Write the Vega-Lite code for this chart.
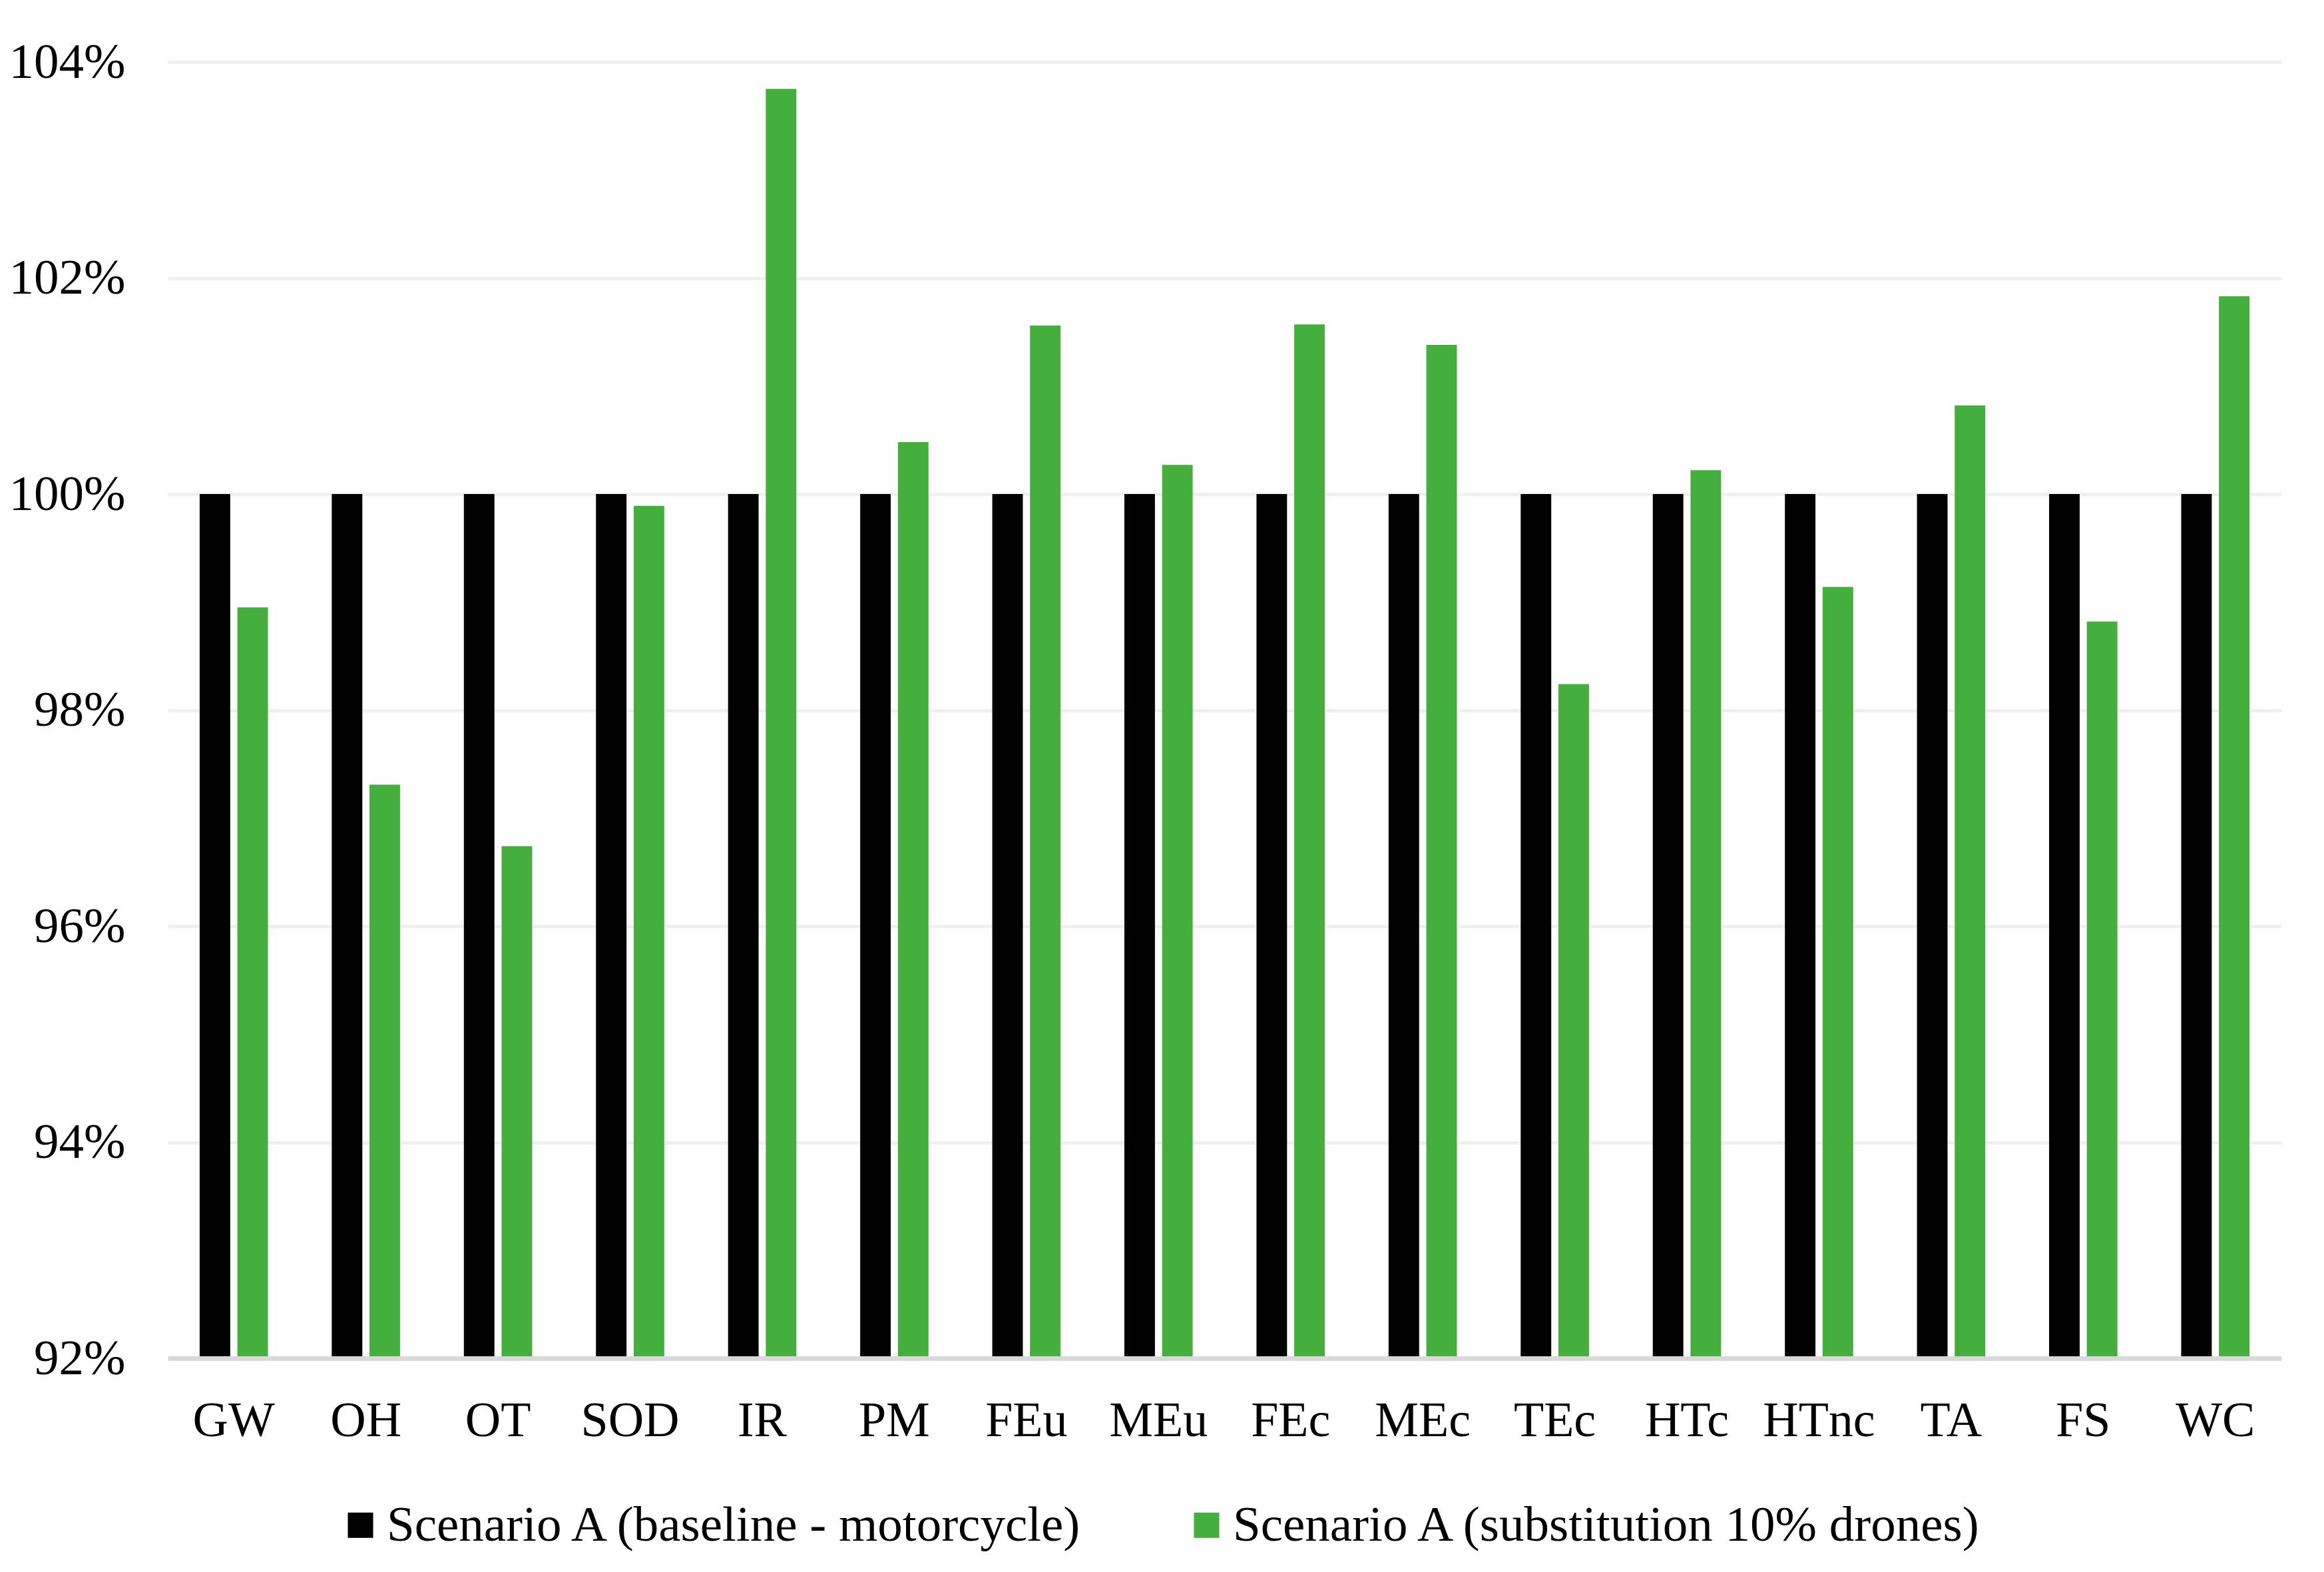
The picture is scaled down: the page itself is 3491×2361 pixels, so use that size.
{
  "$schema": "https://vega.github.io/schema/vega-lite/v6.json",
  "width": 3175,
  "height": 1947,
  "autosize": {"type": "none"},
  "padding": {"left": 252, "top": 93, "right": 64, "bottom": 321},
  "background": "white",
  "config": {"view": {"stroke": null}, "font": "Liberation Serif"},
  "data": {
    "values": [
      {"category": "GW", "series": "Scenario A (baseline - motorcycle)", "value": 1.0},
      {"category": "GW", "series": "Scenario A (substitution 10% drones)", "value": 0.9895},
      {"category": "OH", "series": "Scenario A (baseline - motorcycle)", "value": 1.0},
      {"category": "OH", "series": "Scenario A (substitution 10% drones)", "value": 0.9731},
      {"category": "OT", "series": "Scenario A (baseline - motorcycle)", "value": 1.0},
      {"category": "OT", "series": "Scenario A (substitution 10% drones)", "value": 0.9674},
      {"category": "SOD", "series": "Scenario A (baseline - motorcycle)", "value": 1.0},
      {"category": "SOD", "series": "Scenario A (substitution 10% drones)", "value": 0.9989},
      {"category": "IR", "series": "Scenario A (baseline - motorcycle)", "value": 1.0},
      {"category": "IR", "series": "Scenario A (substitution 10% drones)", "value": 1.0375},
      {"category": "PM", "series": "Scenario A (baseline - motorcycle)", "value": 1.0},
      {"category": "PM", "series": "Scenario A (substitution 10% drones)", "value": 1.0048},
      {"category": "FEu", "series": "Scenario A (baseline - motorcycle)", "value": 1.0},
      {"category": "FEu", "series": "Scenario A (substitution 10% drones)", "value": 1.0156},
      {"category": "MEu", "series": "Scenario A (baseline - motorcycle)", "value": 1.0},
      {"category": "MEu", "series": "Scenario A (substitution 10% drones)", "value": 1.0027},
      {"category": "FEc", "series": "Scenario A (baseline - motorcycle)", "value": 1.0},
      {"category": "FEc", "series": "Scenario A (substitution 10% drones)", "value": 1.0157},
      {"category": "MEc", "series": "Scenario A (baseline - motorcycle)", "value": 1.0},
      {"category": "MEc", "series": "Scenario A (substitution 10% drones)", "value": 1.0138},
      {"category": "TEc", "series": "Scenario A (baseline - motorcycle)", "value": 1.0},
      {"category": "TEc", "series": "Scenario A (substitution 10% drones)", "value": 0.9824},
      {"category": "HTc", "series": "Scenario A (baseline - motorcycle)", "value": 1.0},
      {"category": "HTc", "series": "Scenario A (substitution 10% drones)", "value": 1.0022},
      {"category": "HTnc", "series": "Scenario A (baseline - motorcycle)", "value": 1.0},
      {"category": "HTnc", "series": "Scenario A (substitution 10% drones)", "value": 0.9914},
      {"category": "TA", "series": "Scenario A (baseline - motorcycle)", "value": 1.0},
      {"category": "TA", "series": "Scenario A (substitution 10% drones)", "value": 1.0082},
      {"category": "FS", "series": "Scenario A (baseline - motorcycle)", "value": 1.0},
      {"category": "FS", "series": "Scenario A (substitution 10% drones)", "value": 0.9882},
      {"category": "WC", "series": "Scenario A (baseline - motorcycle)", "value": 1.0},
      {"category": "WC", "series": "Scenario A (substitution 10% drones)", "value": 1.0183}
    ]
  },
  "mark": {"type": "bar"},
  "encoding": {
    "x": {
      "field": "category",
      "type": "nominal",
      "sort": null,
      "scale": {"paddingInner": 0.483, "paddingOuter": 0.2415},
      "axis": {
        "title": null,
        "labelAngle": 0,
        "ticks": false,
        "domain": true,
        "domainColor": "#d9d9d9",
        "domainWidth": 7,
        "grid": false,
        "labelFont": "Liberation Serif",
        "labelFontSize": 74,
        "labelColor": "#000000",
        "labelPadding": 58,
        "zindex": 1
      }
    },
    "xOffset": {
      "field": "series",
      "type": "nominal",
      "sort": ["Scenario A (baseline - motorcycle)", "Scenario A (substitution 10% drones)"],
      "scale": {"paddingInner": 0.19, "paddingOuter": 0}
    },
    "y": {
      "field": "value",
      "type": "quantitative",
      "scale": {"domain": [0.92, 1.04], "zero": false, "nice": false},
      "axis": {
        "title": null,
        "format": ".0%",
        "values": [0.92, 0.94, 0.96, 0.98, 1.0, 1.02, 1.04],
        "grid": true,
        "gridColor": "#f0f0f0",
        "gridWidth": 5,
        "domain": false,
        "ticks": false,
        "labelFont": "Liberation Serif",
        "labelFontSize": 75,
        "labelColor": "#000000",
        "labelPadding": 64
      }
    },
    "y2": {"datum": 0.92},
    "color": {
      "field": "series",
      "type": "nominal",
      "scale": {
        "domain": ["Scenario A (baseline - motorcycle)", "Scenario A (substitution 10% drones)"],
        "range": ["#000000", "#44AF3D"]
      },
      "legend": {
        "title": null,
        "orient": "none",
        "direction": "horizontal",
        "legendX": 252,
        "legendY": 2160,
        "symbolType": "square",
        "symbolSize": 1444,
        "symbolStrokeWidth": 0,
        "labelFont": "Liberation Serif",
        "labelFontSize": 75,
        "labelColor": "#000000",
        "labelOffset": 2,
        "labelLimit": 2000,
        "columnPadding": 144
      }
    }
  }
}
